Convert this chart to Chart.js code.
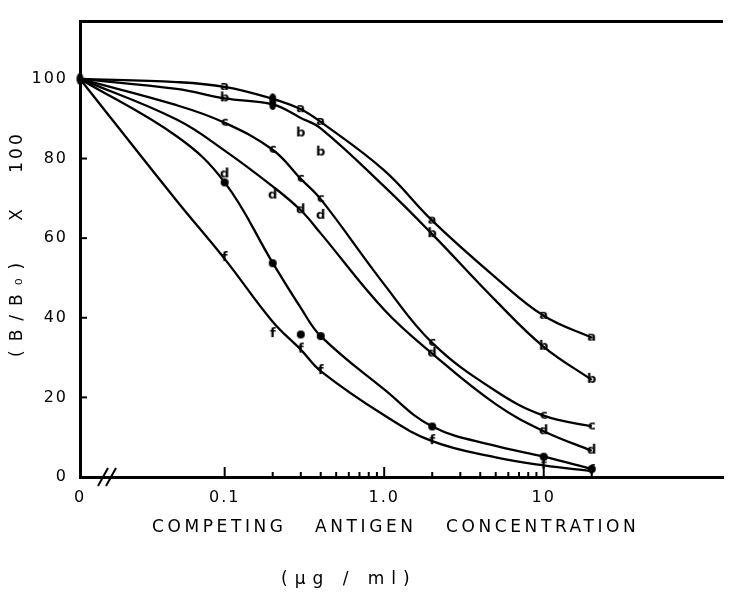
<!DOCTYPE html>
<html>
<head>
<meta charset="utf-8">
<script src="https://cdn.jsdelivr.net/npm/chart.js@4.4.1/dist/chart.umd.min.js"></script>
<style>
  body { margin: 0; background: #fff; }
</style>
</head>
<body>
<canvas id="chart" width="729" height="594"></canvas>
<script>
// concentration (ug/ml) where the fitted curves were read; 0 sits at the axis start
const curveConc = [0, 0.05, 0.1, 0.2, 0.3, 0.4, 1.0, 2, 5, 10, 20];
// fitted curves, (B/Bo) x 100
const curveA = [100, 99.2, 98, 95, 92.4, 89.2, 77, 64.4, 50.1, 40.5, 35];
const curveB = [100, 97.5, 95.1, 93.6, 90.2, 87.6, 73, 61, 44.3, 32.7, 24.4];
const curveC = [100, 93.4, 89, 82.2, 74.9, 69.8, 48.4, 33.7, 21.6, 15.4, 12.7];
const curveD = [100, 89.8, 82, 73, 67, 61.2, 42, 31, 18.3, 11.5, 6.6];
const curveE = [100, 85.6, 74, 53.8, 42.5, 35.4, 22, 12.7, 7.8, 5.1, 2];
const curveF = [100, 69.4, 54.8, 39, 32, 26.6, 15.5, 9, 4.9, 2.9, 1.5];

// measured points
const pointConc = [0.1, 0.2, 0.3, 0.4, 2, 10, 20];
const pointsA = [98, 95, 92.4, 89.2, 64.4, 40.5, 35];
const pointsB = [95.1, 93.6, 86.3, 81.5, 61, 32.7, 24.4];
const pointsC = [89, 82.2, 74.9, 69.8, 33.7, 15.4, 12.7];
const pointsD = [76, 70.7, 67, 65.6, 31, 11.5, 6.6];
const pointsE = [74, 53.7, 35.8, 35.4, 12.7, 5.1, 2];
const pointsF = [55, 35.9, 32, 26.6, 9, 2.9, 1.5];
// every curve starts from 100 at zero concentration
const zeroPoint = [100];

const xTickValues = [0, 0.1, 1, 10];
const xTickLabels = ['0', '0.1', '1.0', '10'];
const xMinorTicks = [0.2, 0.3, 0.4, 0.5, 0.6, 0.7, 0.8, 0.9, 2, 3, 4, 5, 6, 7, 8, 9, 20];
const yTickValues = [0, 20, 40, 60, 80, 100];

const X_MIN = 0.01239;
const X_MAX = 133;
const Y_MAX = 114.4;
const FONT = '"DejaVu Sans", sans-serif';

function letterMark(ch) {
  const c = document.createElement('canvas');
  c.width = 14; c.height = 16;
  const g = c.getContext('2d');
  g.fillStyle = '#000';
  g.font = 'bold 13px "DejaVu Sans"';
  g.textAlign = 'center';
  g.textBaseline = 'middle';
  g.fillText(ch, 7, 8);
  return c;
}

function dotMark(w, h) {
  const c = document.createElement('canvas');
  c.width = w + 2; c.height = h + 2;
  const g = c.getContext('2d');
  g.fillStyle = '#000';
  g.beginPath();
  g.ellipse(c.width / 2, c.height / 2, w / 2, h / 2, 0, 0, Math.PI * 2);
  g.fill();
  return c;
}

const dot = dotMark(8, 8);
const blob = dotMark(7, 11);

function markers(ch, dotAt) {
  const m = letterMark(ch);
  return pointConc.map((c, i) => dotAt.includes(i) ? blob : m);
}

function pts(xs, ys) {
  return xs.map((x, i) => ({ x: x === 0 ? X_MIN : x, y: ys[i] }));
}

function lineSet(ys) {
  return {
    data: pts(curveConc, ys),
    borderColor: '#000',
    borderWidth: 2.3,
    pointRadius: 0,
    fill: false,
    tension: 0.4,
    clip: false
  };
}

function markSet(xs, ys, style) {
  return {
    data: pts(xs, ys),
    showLine: false,
    pointStyle: style,
    pointRadius: 5,
    borderColor: '#000',
    backgroundColor: '#000',
    clip: false
  };
}

const axisExtras = {
  id: 'axisExtras',
  beforeDraw(chart) {
    chart.ctx.letterSpacing = '2px';
  },
  afterDatasetsDraw(chart) {
    const { ctx, chartArea } = chart;
    const xs = chart.scales.x, ys = chart.scales.y;
    ctx.save();
    ctx.strokeStyle = '#000';
    ctx.lineWidth = 2;
    // inward y ticks
    yTickValues.forEach(v => {
      if (v === 0) return;
      const y = ys.getPixelForValue(v);
      ctx.beginPath();
      ctx.moveTo(chartArea.left, y);
      ctx.lineTo(chartArea.left + 7, y);
      ctx.stroke();
    });
    // inward x ticks
    xTickValues.forEach(v => {
      if (v === 0) return;
      const x = xs.getPixelForValue(v);
      ctx.beginPath();
      ctx.moveTo(x, chartArea.bottom);
      ctx.lineTo(x, chartArea.bottom - 10);
      ctx.stroke();
    });
    xMinorTicks.forEach(v => {
      const x = xs.getPixelForValue(v);
      ctx.beginPath();
      ctx.moveTo(x, chartArea.bottom);
      ctx.lineTo(x, chartArea.bottom - 5);
      ctx.stroke();
    });
    // top frame line
    ctx.lineWidth = 3;
    ctx.beginPath();
    ctx.moveTo(chartArea.left - 1, chartArea.top);
    ctx.lineTo(chartArea.right, chartArea.top);
    ctx.stroke();
    // axis break
    ctx.lineWidth = 2;
    const b = chartArea.bottom;
    [[98, 108], [106, 116]].forEach(([x0, x1]) => {
      ctx.beginPath();
      ctx.moveTo(x0, b + 9);
      ctx.lineTo(x1, b - 9);
      ctx.stroke();
    });
    ctx.restore();
  },
  afterDraw(chart) {
    const ctx = chart.ctx;
    ctx.save();
    ctx.fillStyle = '#000';
    ctx.font = '17px ' + FONT;
    ctx.textBaseline = 'middle';
    // x title, word by word
    ctx.letterSpacing = '3.6px';
    ctx.textAlign = 'left';
    ctx.fillText('COMPETING', 152, 528);
    ctx.fillText('ANTIGEN', 315, 528);
    ctx.fillText('CONCENTRATION', 446, 528);
    ctx.letterSpacing = '7px';
    ctx.fillText('(\u03bcg / ml)', 281, 580);
    // y title
    ctx.translate(18, 0);
    ctx.rotate(-Math.PI / 2);
    ctx.letterSpacing = '9px';
    ctx.fillText('(B/B\u2080)', -357, 0);
    ctx.letterSpacing = '0px';
    ctx.textAlign = 'center';
    ctx.fillText('X', -215, 0);
    ctx.letterSpacing = '3px';
    ctx.fillText('100', -152, 0);
    ctx.restore();
  }
};

new Chart(document.getElementById('chart'), {
  type: 'line',
  data: {
    datasets: [
      markSet([0], zeroPoint, [dotMark(7, 12)]),
      markSet(pointConc, pointsA, markers('a', [1])),
      markSet(pointConc, pointsB, markers('b', [1])),
      markSet(pointConc, pointsC, markers('c', [])),
      markSet(pointConc, pointsD, markers('d', [])),
      markSet(pointConc, pointsE, pointConc.map(() => dot)),
      markSet(pointConc, pointsF, markers('f', [])),
      lineSet(curveA),
      lineSet(curveB),
      lineSet(curveC),
      lineSet(curveD),
      lineSet(curveE),
      lineSet(curveF)
    ]
  },
  plugins: [axisExtras],
  options: {
    responsive: false,
    animation: false,
    devicePixelRatio: 1,
    events: [],
    layout: { padding: { top: 7, right: 0, left: 0, bottom: 0 } },
    plugins: { legend: { display: false }, tooltip: { enabled: false } },
    scales: {
      x: {
        type: 'logarithmic',
        min: X_MIN,
        max: X_MAX,
        afterBuildTicks: s => { s.ticks = xTickValues.map(v => ({ value: v === 0 ? X_MIN : v })); },
        afterFit: s => { s.height = 117; },
        grid: { display: false, drawTicks: false },
        border: { color: '#000', width: 3 },
        ticks: {
          autoSkip: false,
          maxRotation: 0,
          padding: 11,
          color: '#000',
          font: { family: FONT, size: 16 },
          callback: (v, i) => xTickLabels[i]
        }
      },
      y: {
        type: 'linear',
        min: 0,
        max: Y_MAX,
        afterBuildTicks: s => { s.ticks = yTickValues.map(v => ({ value: v })); },
        afterFit: s => { s.width = 80; },
        grid: { display: false, drawTicks: false },
        border: { color: '#000', width: 3 },
        ticks: {
          padding: 12,
          color: '#000',
          font: { family: FONT, size: 16 },
          callback: v => String(v)
        }
      }
    }
  }
});
</script>
</body>
</html>
